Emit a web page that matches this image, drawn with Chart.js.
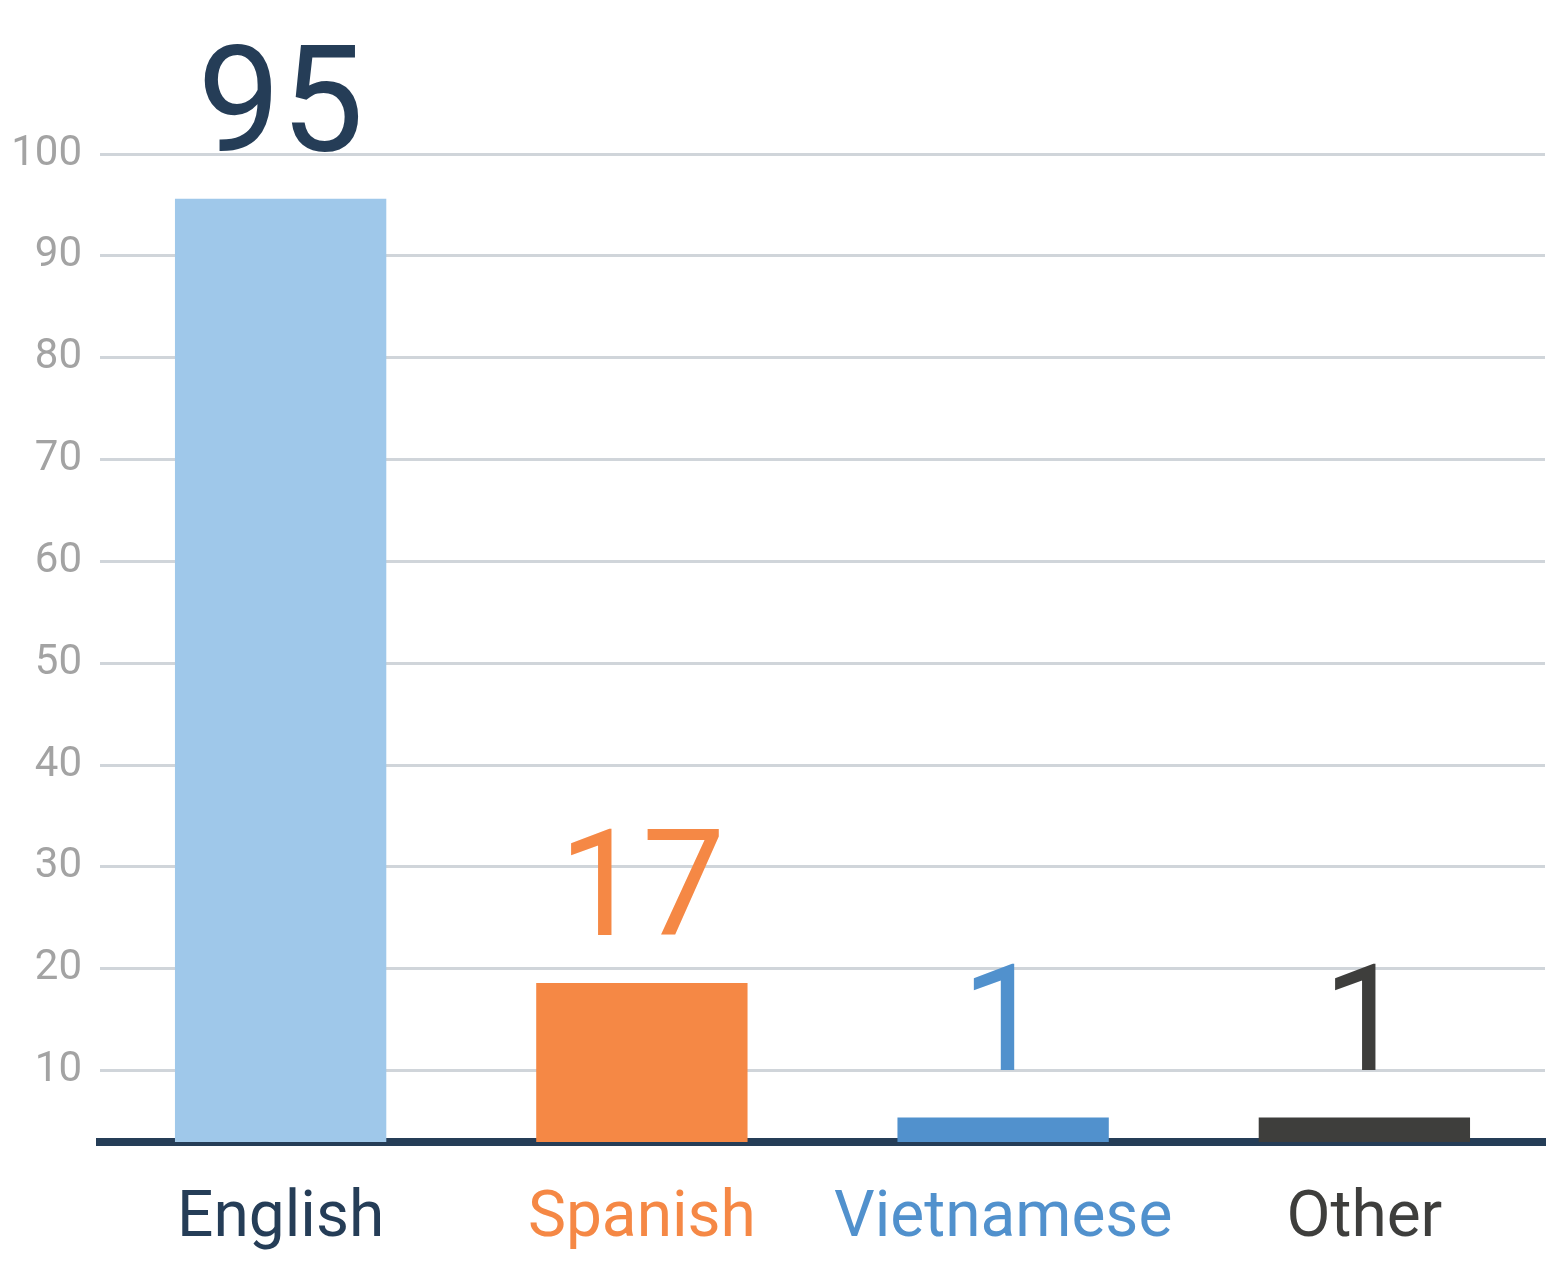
<!DOCTYPE html>
<html>
<head>
<meta charset="utf-8">
<script src="https://cdn.jsdelivr.net/npm/chart.js@4/dist/chart.umd.min.js"></script>
<style>
  html, body { margin: 0; padding: 0; background: #fff; }
  #wrap { width: 1559px; height: 1266px; }
</style>
</head>
<body>
<div id="wrap"><canvas id="chart"></canvas></div>
<script>
'use strict';

// Data
const categories = ['English', 'Spanish', 'Vietnamese', 'Other'];
const barValues = [95.6, 18.6, 5.4, 5.4];      // bar heights against the y scale
const valueLabels = ['95', '17', '1', '1'];     // numbers printed above the bars
const yTickValues = [10, 20, 30, 40, 50, 60, 70, 80, 90, 100];
const yMin = 3;
const yMax = 100;

const barColors = ['#9fc8ea', '#f58845', '#5191cd', '#3e3e3c'];
const textColors = ['#253d57', '#f58845', '#5191cd', '#3e3e3c'];
const FONT = 'Roboto, "Open Sans", sans-serif';

// Draws the big numbers above each bar
const valueLabelPlugin = {
  id: 'valueLabels',
  afterDatasetsDraw: function(chart) {
    let ctx = chart.ctx;
    let meta = chart.getDatasetMeta(0);
    ctx.save();
    ctx.font = '148px ' + FONT;
    ctx.textAlign = 'center';
    ctx.textBaseline = 'alphabetic';
    meta.data.forEach(function(bar, i) {
      ctx.fillStyle = textColors[i];
      ctx.fillText(valueLabels[i], bar.x, bar.y - 48);
    });
    ctx.restore();
  }
};

new Chart(document.getElementById('chart').getContext('2d'), {
  type: 'bar',
  data: {
    labels: categories,
    datasets: [{
      data: barValues,
      backgroundColor: barColors,
      borderWidth: 0,
      categoryPercentage: 1,
      barPercentage: 0.585
    }]
  },
  options: {
    responsive: true,
    maintainAspectRatio: false,
    animation: false,
    events: [],
    layout: { padding: { top: 154, left: 0, right: 14, bottom: 0 } },
    plugins: {
      legend: { display: false },
      tooltip: { enabled: false }
    },
    scales: {
      x: {
        z: 1,
        // fixed axis height so the baseline sits where the picture has it
        afterFit: function(scale) { scale.height = 124; },
        grid: { display: false, drawTicks: false },
        border: { display: true, color: '#253d57', width: 8 },
        ticks: {
          padding: 40,
          maxRotation: 0,
          font: { family: FONT, size: 64 },
          color: function(ctx) { return textColors[ctx.index]; }
        }
      },
      y: {
        min: yMin,
        max: yMax,
        afterFit: function(scale) { scale.width = 100; },
        afterBuildTicks: function(scale) {
          scale.ticks = yTickValues.map(function(v) { return { value: v }; });
        },
        grid: { color: '#d0d5da', lineWidth: 3, drawTicks: false },
        border: { display: false },
        ticks: {
          padding: 18,
          font: { family: FONT, size: 42 },
          color: '#a3a3a3'
        }
      }
    }
  },
  plugins: [valueLabelPlugin]
});
</script>
</body>
</html>
